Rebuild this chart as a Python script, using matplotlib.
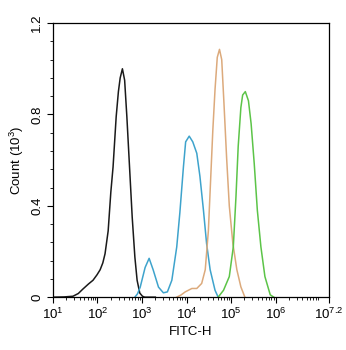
import numpy as np
import matplotlib
matplotlib.use("Agg")
import matplotlib.pyplot as plt
from matplotlib.ticker import FixedLocator, LogLocator, NullFormatter

plt.rcParams['font.family'] = ['Liberation Sans', 'DejaVu Sans']
plt.rcParams['mathtext.default'] = 'regular'

# curves: log10(FITC-H) and count (10^3)
black_logx = [1.0, 1.25, 1.45, 1.57, 1.67, 1.80, 1.90, 1.99, 2.06, 2.12, 2.17, 2.24,
              2.30, 2.35, 2.42, 2.47, 2.51, 2.56, 2.61, 2.66, 2.72, 2.78, 2.84, 2.89,
              2.95, 3.01, 3.06, 3.3]
black_y = [0.0, 0.001, 0.004, 0.016, 0.035, 0.058, 0.074, 0.098, 0.12, 0.15, 0.19, 0.29,
           0.46, 0.57, 0.79, 0.90, 0.96, 1.0, 0.95, 0.79, 0.57, 0.35, 0.175, 0.074,
           0.018, 0.004, 0.0, 0.0]

blue_logx = [2.84, 2.90, 2.96, 3.07, 3.16, 3.25, 3.37, 3.48, 3.57, 3.67, 3.78, 3.85,
             3.93, 3.98, 4.06, 4.14, 4.23, 4.30, 4.38, 4.45, 4.53, 4.64, 4.71]
blue_y = [0.0, 0.015, 0.044, 0.13, 0.17, 0.12, 0.044, 0.019, 0.023, 0.074, 0.22, 0.37,
          0.57, 0.68, 0.705, 0.68, 0.63, 0.53, 0.38, 0.235, 0.12, 0.03, 0.0]

orange_logx = [3.78, 3.88, 3.97, 4.12, 4.23, 4.34, 4.42, 4.49, 4.54, 4.59, 4.64, 4.69,
               4.74, 4.79, 4.84, 4.90, 4.96, 5.04, 5.13, 5.22, 5.31]
orange_y = [0.0, 0.01, 0.023, 0.038, 0.038, 0.06, 0.12, 0.29, 0.51, 0.73, 0.91, 1.05,
            1.085, 1.04, 0.85, 0.61, 0.40, 0.235, 0.12, 0.045, 0.0]

green_logx = [4.71, 4.83, 4.96, 5.05, 5.11, 5.16, 5.22, 5.26, 5.32, 5.39, 5.45, 5.52,
              5.59, 5.67, 5.76, 5.88, 5.96]
green_y = [0.0, 0.03, 0.09, 0.22, 0.44, 0.66, 0.83, 0.885, 0.90, 0.86, 0.76, 0.585,
           0.38, 0.22, 0.09, 0.01, 0.0]

xtick_exp = ["1", "2", "3", "4", "5", "6", "7.2"]
ytick_vals = [0, 0.4, 0.8, 1.2]

fig = plt.figure(figsize=(3.46, 3.5), dpi=100)
ax = fig.add_axes([0.153, 0.151, 0.798, 0.783])

curves = [(black_logx, black_y, "#1a1a1a"),
          (blue_logx, blue_y, "#3ea3cc"),
          (orange_logx, orange_y, "#dcaa7c"),
          (green_logx, green_y, "#5cc448")]
for lx, y, c in curves:
    ax.plot(10 ** np.array(lx, dtype=float), y, color=c, lw=1.1)

ax.set_xscale("log")
ax.set_xlim(10, 10 ** 7.2)
ax.set_ylim(0, 1.2)

xt = [10 ** float(e) for e in xtick_exp]
ax.xaxis.set_major_locator(FixedLocator(xt))
ax.set_xticklabels(["$10^{%s}$" % e for e in xtick_exp])
ax.xaxis.set_minor_locator(LogLocator(base=10, subs=np.arange(2, 10), numticks=20))
ax.xaxis.set_minor_formatter(NullFormatter())

ax.set_yticks(ytick_vals)
ax.set_yticklabels(["0", "0.4", "0.8", "1.2"], rotation=90, va="center")
ax.yaxis.set_minor_locator(FixedLocator(np.arange(0, 1.21, 0.08)))

ax.tick_params(which="major", length=4, width=0.8, labelsize=9.5, pad=3)
ax.tick_params(which="minor", length=2, width=0.6)
for s in ax.spines.values():
    s.set_linewidth(0.9)

ax.set_xlabel("FITC-H", fontsize=9.5, labelpad=3)
ax.set_ylabel("Count (10$^{3}$)", fontsize=9.5, labelpad=4)

fig.savefig("out.png", dpi=100)
